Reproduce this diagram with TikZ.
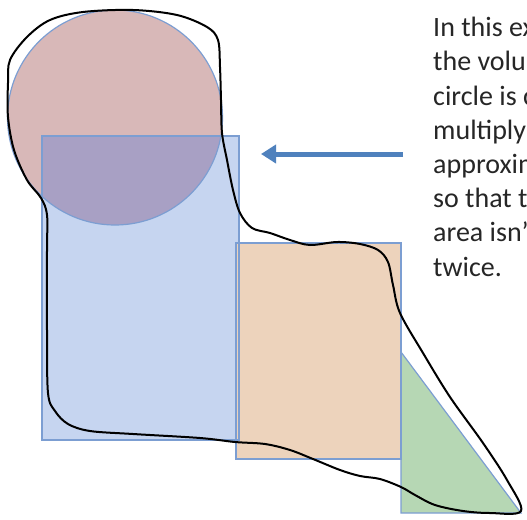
\documentclass[tikz,border=0pt]{standalone}
\usepackage{fontspec}
\setmainfont{Carlito}
\usetikzlibrary{arrows.meta}

\definecolor{circfill}{RGB}{216,184,184}
\definecolor{rectblue}{RGB}{198,213,240}
\definecolor{overlapfill}{RGB}{168,160,196}
\definecolor{rectorange}{RGB}{237,211,188}
\definecolor{trigreen}{RGB}{182,215,180}
\definecolor{shapeedge}{RGB}{124,158,210}
\definecolor{arrowblue}{RGB}{79,129,189}

\begin{document}
\begin{tikzpicture}[x=1pt, y=-1pt,
    shapeedge/.style={draw=shapeedge, line width=1.2pt},
    outline/.style={black, line width=2pt, line join=round},
    pointer/.style={arrowblue, line width=5pt, -{Triangle[length=15pt, width=18pt]}},
    note/.style={anchor=base west, align=left, inner sep=0pt, text=black!85,
      font=\fontsize{28pt}{34.2pt}\selectfont}]
  \clip (0,0) rectangle (527,519);

  % ==================== approximating shapes ====================
  \fill[circfill] (115,117.5) circle (107.5pt);
  \fill[rectblue] (42,136) rectangle (239,440);
  % part of the circle that lies inside the rectangle
  \begin{scope}
    \clip (115,117.5) circle (107.5pt);
    \fill[overlapfill] (42,136) rectangle (239,440);
  \end{scope}
  \fill[rectorange] (236,243) rectangle (401,459);
  \fill[trigreen] (401,352) -- (401,513) -- (521,513) -- cycle;

  % edges
  \draw[shapeedge] (115,117.5) circle (107.5pt);
  \draw[shapeedge] (42,136) rectangle (239,440);
  \draw[shapeedge] (236,243) rectangle (401,459);
  \draw[shapeedge] (401,352) -- (401,513) -- (521,513) -- cycle;

  % ==================== hand drawn outline ====================
  \draw[outline] plot[smooth cycle, tension=0.55] coordinates {
    (10,60) (27,37) (50,20) (83,12) (133,10) (177,15) (207,27) (218,40)
    (220,67) (221,100) (222,133) (227,160) (233,190) (240,213) (252,228)
    (270,233) (290,240) (310,245) (337,242) (360,244) (378,250) (388,262)
    (393,285) (400,313) (423,353) (450,397) (483,443) (507,480) (521,511)
    (490,513) (463,511) (435,505) (415,495) (401,487) (380,479) (360,476)
    (340,470) (313,459) (290,450) (265,444) (235,442) (200,438) (133,434)
    (90,431) (68,424) (55,411) (48,393) (47,330) (47,250) (47,215)
    (41,198) (27,180) (14,150) (8,117) (8,83)};

  % ==================== explanation ====================
  % base anchor of the multi-line node sits on its last line
  \node[note] (explain) at (433,276) {In this ex\\the volu\\circle is c\\multiply\\approxim\\so that t\\area isn’\\twice.};
  \coordinate (arrowtail) at (403,154);
  \coordinate (arrowtip) at (261,154);
  \draw[pointer] (arrowtail) -- (arrowtip);
\end{tikzpicture}
\end{document}
